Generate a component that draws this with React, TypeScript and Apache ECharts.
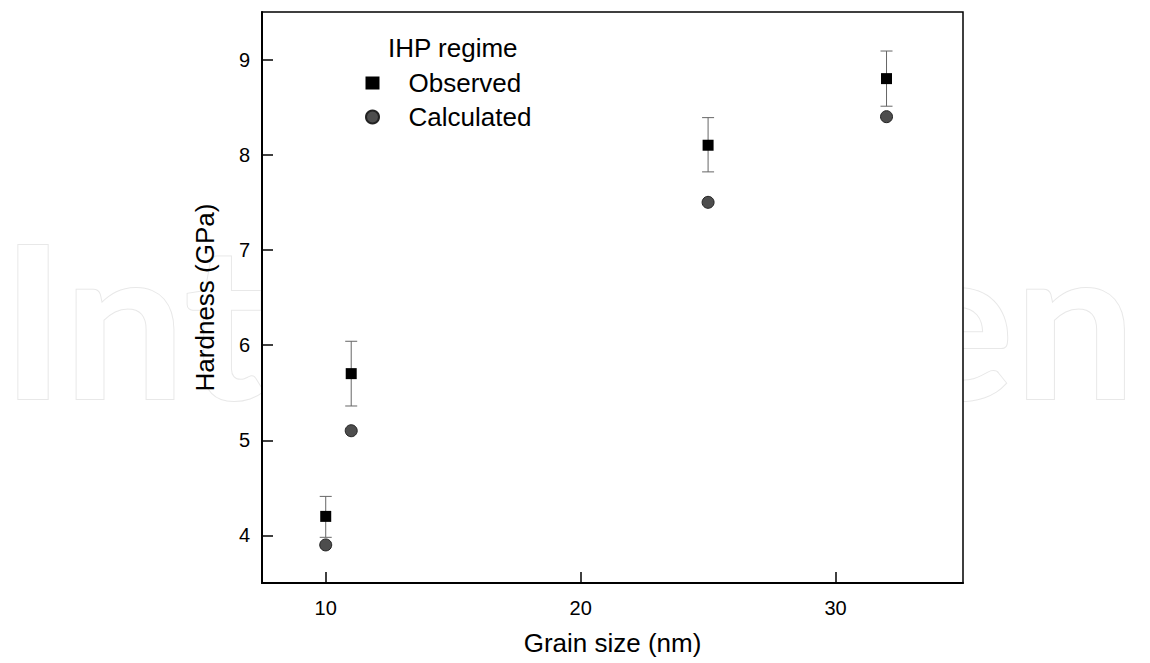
import React, { useEffect, useRef } from "react";
import * as echarts from "echarts";

const grainSize = [10, 11, 25, 32];
const observed = [4.2, 5.7, 8.1, 8.8];
const observedLow = [3.98, 5.36, 7.82, 8.51];
const observedHigh = [4.41, 6.04, 8.39, 9.09];
const calculated = [3.9, 5.1, 7.5, 8.4];
const xTicks = [10, 20, 30];
const yTicks = [4, 5, 6, 7, 8, 9];

export default function App() {
  const ref = useRef<HTMLDivElement>(null);
  useEffect(() => {
    if (!ref.current) return;
    const chart = echarts.init(ref.current, null, { renderer: "svg" });
    const font = "'Liberation Sans', Arial, sans-serif";
    chart.setOption({
      animation: false,
      backgroundColor: "#fff",
      graphic: {
        elements: [
          {
            type: "text",
            z: -10,
            silent: true,
            x: 1,
            y: 317,
            scaleX: 1.015,
            style: {
              text: "IntechOpen",
              font: "700 213px Lato, 'Open Sans', sans-serif",
              fill: "#fff",
              stroke: "#e8e8e8",
              lineWidth: 2,
              verticalAlign: "middle",
              align: "left",
            },
          },
        ],
      },
      title: {
        text: "IHP regime",
        left: 383,
        top: 30,
        textStyle: { fontFamily: font, fontSize: 26, fontWeight: "normal", color: "#000" },
      },
      legend: {
        orient: "vertical",
        left: 360,
        top: 65,
        itemGap: 8,
        itemWidth: 14,
        itemHeight: 13,
        data: [
          { name: "Observed", icon: "rect" },
          { name: "Calculated", icon: "circle" },
        ],
        textStyle: {
          fontFamily: font,
          fontSize: 26,
          lineHeight: 26,
          color: "#000",
          padding: [0, 0, 0, 24],
        },
      },
      grid: {
        left: 262,
        top: 12,
        right: 187,
        bottom: 80,
        show: true,
        backgroundColor: "#fff",
        borderColor: "#000",
        borderWidth: 1.5,
      },
      xAxis: {
        type: "value",
        min: 7.5,
        max: 35,
        name: "Grain size (nm)",
        nameLocation: "middle",
        nameGap: 47,
        nameTextStyle: { fontFamily: font, fontSize: 26, color: "#000" },
        axisLine: { show: true, onZero: false, lineStyle: { color: "#000", width: 2 } },
        axisTick: { show: true, inside: true, length: 11, customValues: xTicks, lineStyle: { color: "#000", width: 1.5 } },
        axisLabel: { customValues: xTicks, fontFamily: font, fontSize: 20, color: "#000", margin: 15 },
        splitLine: { show: false },
      },
      yAxis: {
        type: "value",
        min: 3.5,
        max: 9.5,
        name: "Hardness (GPa)",
        nameLocation: "middle",
        nameGap: 44,
        nameTextStyle: { fontFamily: font, fontSize: 26, color: "#000" },
        axisLine: { show: true, onZero: false, lineStyle: { color: "#000", width: 2 } },
        axisTick: { show: true, inside: true, length: 11, customValues: yTicks, lineStyle: { color: "#000", width: 1.5 } },
        axisLabel: { customValues: yTicks, fontFamily: font, fontSize: 20, color: "#000", margin: 12 },
        splitLine: { show: false },
      },
      series: [
        {
          type: "custom",
          name: "errors",
          z: 1,
          data: grainSize.map((x, i) => [x, observedLow[i], observedHigh[i]]),
          renderItem: (params: any, api: any) => {
            const x = api.value(0);
            const lo = api.coord([x, api.value(1)]);
            const hi = api.coord([x, api.value(2)]);
            const hw = 6;
            const style = { stroke: "#666", lineWidth: 1 };
            return {
              type: "group",
              children: [
                { type: "line", shape: { x1: lo[0], y1: lo[1], x2: hi[0], y2: hi[1] }, style },
                { type: "line", shape: { x1: lo[0] - hw, y1: lo[1], x2: lo[0] + hw, y2: lo[1] }, style },
                { type: "line", shape: { x1: hi[0] - hw, y1: hi[1], x2: hi[0] + hw, y2: hi[1] }, style },
              ],
            };
          },
        },
        {
          type: "scatter",
          name: "Observed",
          z: 3,
          symbol: "rect",
          symbolSize: 11,
          itemStyle: { color: "#000", borderWidth: 0, opacity: 1 },
          data: grainSize.map((x, i) => [x, observed[i]]),
        },
        {
          type: "scatter",
          name: "Calculated",
          z: 2,
          symbol: "circle",
          symbolSize: 12,
          itemStyle: { color: "#4d4d4d", borderColor: "#222", borderWidth: 1, opacity: 1 },
          data: grainSize.map((x, i) => [x, calculated[i]]),
        },
      ],
    });
    return () => chart.dispose();
  }, []);
  return <div ref={ref} style={{ width: 1150, height: 663, position: "absolute", left: 0, top: 0 }} />;
}
